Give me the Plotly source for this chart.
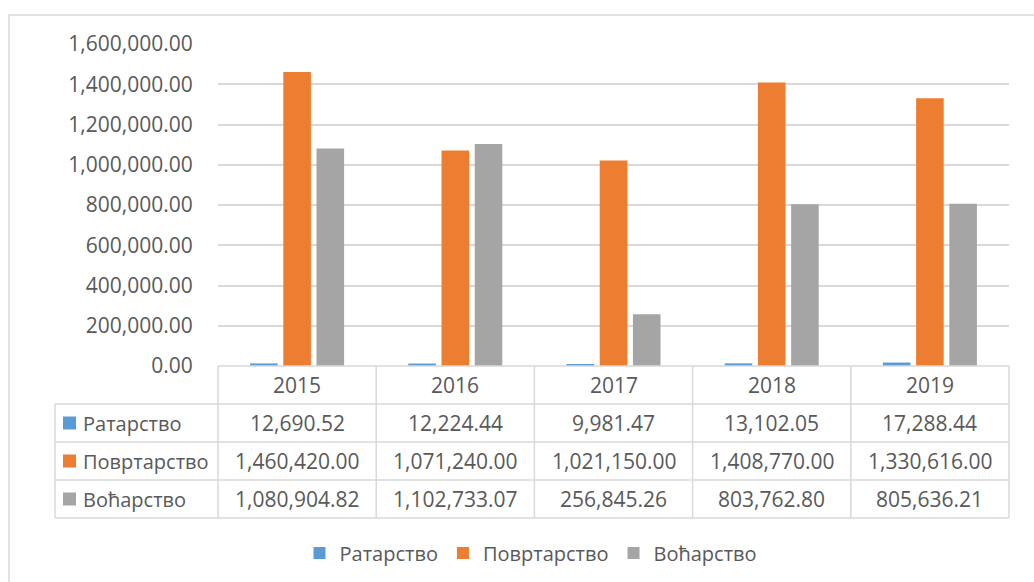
import plotly.graph_objects as go

# data
years = ["2015", "2016", "2017", "2018", "2019"]
ratarstvo = [12690.52, 12224.44, 9981.47, 13102.05, 17288.44]
povrtarstvo = [1460420.00, 1071240.00, 1021150.00, 1408770.00, 1330616.00]
vocarstvo = [1080904.82, 1102733.07, 256845.26, 803762.80, 805636.21]
series_names = ["Ратарство", "Повртарство", "Воћарство"]
colors = ["#5B9BD5", "#ED7D31", "#A5A5A5"]

W, H = 1034, 582
ML, MR, MT, MB = 218, 25, 44, 216
FONT = "Open Sans"
FS = 21
TXT = "#595959"
LINE = "#D9D9D9"

plot_w = W - ML - MR
plot_h = H - MT - MB


def px(x):
    # pixel -> paper x
    return (x - ML) / plot_w


def py(y):
    # pixel -> paper y
    return (H - MB - y) / plot_h


fig = go.Figure()
for name, vals, col in zip(series_names, [ratarstvo, povrtarstvo, vocarstvo], colors):
    fig.add_trace(go.Bar(x=years, y=vals, name=name, marker_color=col,
                         marker_line_width=0))

# data table under the plot
row_h = 38
top = H - MB
shapes = []
ann = []
col_edges = [i / len(years) for i in range(len(years) + 1)]
left = px(55)
lw = dict(color=LINE, width=1.5)
# horizontal lines
shapes.append(dict(type="line", xref="paper", yref="paper", x0=0, x1=1,
                   y0=py(top), y1=py(top), line=lw))
for r in range(1, 5):
    yy = py(top + r * row_h)
    shapes.append(dict(type="line", xref="paper", yref="paper", x0=left, x1=1,
                       y0=yy, y1=yy, line=lw))
# vertical lines
for xe in col_edges:
    shapes.append(dict(type="line", xref="paper", yref="paper", x0=xe, x1=xe,
                       y0=py(top), y1=py(top + 4 * row_h), line=lw))
shapes.append(dict(type="line", xref="paper", yref="paper", x0=left, x1=left,
                   y0=py(top + row_h), y1=py(top + 4 * row_h), line=lw))

tfont = dict(family=FONT, size=FS, color=TXT)
lfont = dict(family=FONT, size=20, color=TXT)
# header row (category axis: x is the category index)
for i, yr in enumerate(years):
    ann.append(dict(x=i, xref="x", y=py(top + row_h / 2), yref="paper", text=yr,
                    yanchor="middle", showarrow=False, font=tfont))
# value rows
for r, (name, vals, col) in enumerate(zip(series_names, [ratarstvo, povrtarstvo, vocarstvo], colors)):
    yc = top + (r + 1.5) * row_h
    shapes.append(dict(type="rect", xref="paper", yref="paper", x0=px(63), x1=px(76),
                       y0=py(yc - 6.5), y1=py(yc + 6.5), fillcolor=col, line_width=0))
    ann.append(dict(x=px(81), xref="paper", y=py(yc), yref="paper", text=name,
                    xanchor="left", yanchor="middle", showarrow=False, font=lfont))
    for i, v in enumerate(vals):
        ann.append(dict(x=i, xref="x", y=py(yc), yref="paper", text=f"{v:,.2f}",
                        yanchor="middle", showarrow=False, font=tfont))

# chart area border
shapes.append(dict(type="rect", xref="paper", yref="paper", x0=px(9), x1=px(1045),
                   y0=py(15), y1=py(600), line=lw,
                   fillcolor="rgba(0,0,0,0)", layer="below"))

fig.update_layout(
    width=W, height=H,
    margin=dict(l=ML, r=MR, t=MT, b=MB, autoexpand=False),
    paper_bgcolor="white", plot_bgcolor="white",
    barmode="group", bargap=0.37, bargroupgap=0.17,
    font=tfont,
    shapes=shapes, annotations=ann,
    legend=dict(orientation="h", x=px(531), xanchor="center", y=py(553), yanchor="middle",
                font=lfont),
)
fig.update_yaxes(range=[0, 1600000], dtick=200000, tickformat=",.2f",
                 gridcolor=LINE, gridwidth=1.5, zeroline=False, showline=False,
                 ticks="outside", ticklen=20, tickcolor="rgba(0,0,0,0)")
fig.update_xaxes(type="category", range=[-0.5, len(years) - 0.5], showticklabels=False,
                 showgrid=False, zeroline=False, showline=False)

fig.write_html("out.html", config={"displayModeBar": False},
               post_script="document.body.style.margin='0';")
